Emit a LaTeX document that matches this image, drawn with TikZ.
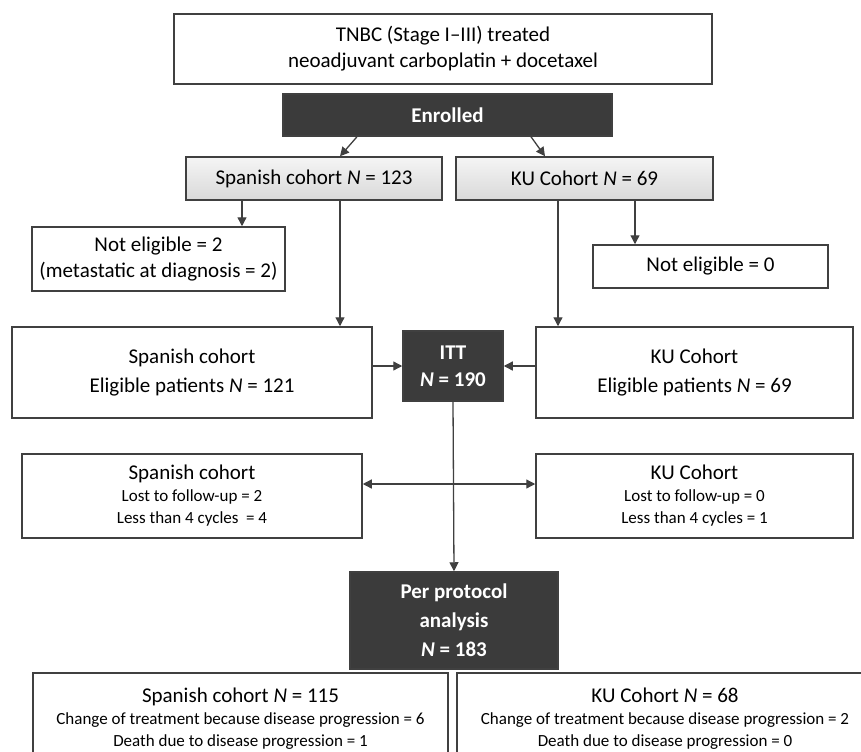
\documentclass[tikz,border=0pt]{standalone}
\usepackage{fontspec}
\setmainfont{Carlito}
\usetikzlibrary{arrows.meta}

\definecolor{boxdark}{HTML}{3B3B3B}
\definecolor{boxline}{HTML}{404040}
\newcommand{\bigtxt}{\fontsize{21bp}{22bp}\selectfont}
\newcommand{\smltxt}{\fontsize{17bp}{22bp}\selectfont}

\begin{document}
\begin{tikzpicture}[
		x=1bp, y=-1bp,
		>={Triangle[width=9bp,length=9bp]},
		box/.style = {draw=boxline, line width=1.5bp, fill=white, align=center, inner sep=0pt,
				font=\fontsize{21bp}{26bp}\selectfont},
		dark/.style = {box, fill=boxdark, text=white, font=\fontsize{21bp}{27bp}\selectfont\bfseries},
		grey/.style = {box, top color=gray!8, bottom color=gray!30},
		lossbox/.style = {box, font=\smltxt},
		arr/.style = {->, draw=boxline, line width=1.3bp},
	]
	\clip (0,0) rectangle (861,752);
	\node[box, line width=2bp, minimum width=538bp, minimum height=70bp] (tnbc) at (443,49)
		{TNBC (Stage I–III) treated\\neoadjuvant carboplatin + docetaxel};
	\node[dark, minimum width=329bp, minimum height=42bp] (enr) at (447.5,115) {Enrolled};
	\node[grey, minimum width=256bp, minimum height=43bp] (spc) at (314,178.5) {Spanish cohort \textit{N} = 123};
	\node[grey, minimum width=257bp, minimum height=43bp] (kuc) at (584.5,178.5) {KU Cohort \textit{N} = 69};
	\node[box, minimum width=253bp, minimum height=64bp] (spne) at (158.5,259)
		{Not eligible = 2\\(metastatic at diagnosis = 2)};
	\node[box, minimum width=235bp, minimum height=43bp] (kune) at (710.5,266.5) {Not eligible = 0};
	\node[box, minimum width=360bp, minimum height=91bp] (spel) at (192,372.5)
		{\raisebox{12bp}{\begin{tabular}{@{}c@{}}Spanish cohort\\[3bp]Eligible patients \textit{N} = 121\end{tabular}}};
	\node[box, minimum width=317bp, minimum height=91bp] (kuel) at (694.5,372.5)
		{\raisebox{12bp}{\begin{tabular}{@{}c@{}}KU Cohort\\[3bp]Eligible patients \textit{N} = 69\end{tabular}}};
	\node[dark, minimum width=100bp, minimum height=70bp] (itt) at (453,366) {ITT\\\textit{N} = 190};
	\node[lossbox, minimum width=340bp, minimum height=84bp] (splost) at (192,496)
		{\bigtxt Spanish cohort\\\smltxt Lost to follow-up = 2\\\smltxt Less than 4 cycles\ \ = 4};
	\node[lossbox, minimum width=317bp, minimum height=84bp] (kulost) at (694.5,496)
		{\bigtxt KU Cohort\\\smltxt Lost to follow-up = 0\\\smltxt Less than 4 cycles = 1};
	\node[dark, minimum width=208bp, minimum height=97bp, font=\fontsize{21bp}{29bp}\selectfont\bfseries] (ppa) at (454,620.5)
		{Per protocol\\analysis\\\textit{N} = 183};
	\node[lossbox, line width=2bp, minimum width=415bp, minimum height=92bp] (spfin) at (240.5,719)
		{\bigtxt Spanish cohort \textit{N} = 115\\\smltxt Change of treatment because disease progression = 6\\\smltxt Death due to disease progression = 1};
	\node[lossbox, line width=2bp, minimum width=416bp, minimum height=92bp] (kufin) at (665,719)
		{\bigtxt KU Cohort \textit{N} = 68\\\smltxt Change of treatment because disease progression = 2\\\smltxt Death due to disease progression = 0};

	\draw[arr] ([xshift=-90.5bp]enr.south) -- ([xshift=26bp]spc.north);
	\draw[arr] ([xshift=83.5bp]enr.south) -- ([xshift=-39.5bp]kuc.north);
	\draw[arr] ([xshift=-72bp]spc.south) -- ([xshift=-72bp]spc.south |- spne.north);
	\draw[arr] ([xshift=26bp]spc.south) -- ([xshift=26bp]spc.south |- spel.north);
	\draw[arr] ([xshift=50.5bp]kuc.south) -- ([xshift=50.5bp]kuc.south |- kune.north);
	\draw[arr] ([xshift=-26.5bp]kuc.south) -- ([xshift=-26.5bp]kuc.south |- kuel.north);
	\draw[arr] (spel.east |- itt.west) -- (itt.west);
	\draw[arr] (kuel.west |- itt.east) -- (itt.east);
	\draw[arr] (itt.south) -- (ppa.north);
	\draw[arr, <->] ([yshift=12bp]splost.east) -- ([yshift=12bp]kulost.west);
\end{tikzpicture}
\end{document}
